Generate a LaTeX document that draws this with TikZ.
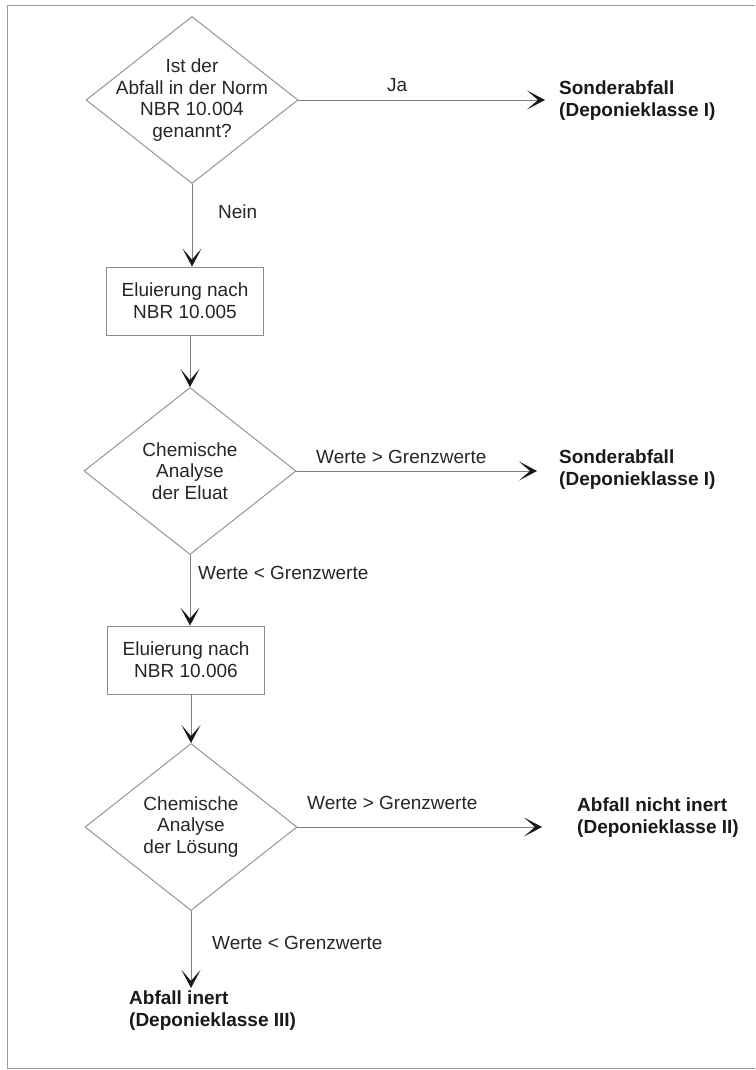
\documentclass[tikz,border=0pt]{standalone}
\usepackage{fontspec}
\setmainfont{Liberation Sans}
\usetikzlibrary{shapes.geometric,arrows.meta}
\begin{document}
\begin{tikzpicture}[x=1pt,y=-1pt,
  every node/.style={font=\fontsize{19}{21.7}\selectfont, text=black!85},
  dec/.style={diamond, draw=black!45, line width=0.9pt, inner sep=0pt,
    minimum width=212pt, minimum height=167pt},
  stepbox/.style={draw=black!45, line width=0.9pt, minimum width=157pt,
    minimum height=68pt, inner sep=0pt, align=center},
  result/.style={font=\fontsize{19}{22}\selectfont\bfseries, text=black!90,
    align=left, anchor=west, inner sep=0pt},
  lab/.style={anchor=west, inner sep=0pt},
  flow/.style={draw=black!50, line width=0.9pt,
    -{Stealth[length=18pt,width=19pt,inset=11pt,color=black!90]}}]
\useasboundingbox (0,0) rectangle (755,1070);
% frame
\draw[black!40, line width=1pt] (755,6) -- (7,6) -- (7,1068) -- (755,1068);

% level 1
\node[dec, label={[align=center]center:Ist der\\Abfall in der Norm\\NBR 10.004\\genannt?}] (d1) at (192,100) {};
\node[result] (s1) at (559,101) {Sonderabfall\\(Deponieklasse I)};
\node[lab] (ja) at (387,85) {Ja};
\draw[flow, shorten >=14pt] (d1.east) -- (d1.east -| s1.west);

\node[lab] (nein) at (218,212) {Nein};
\node[stepbox] (b1) at (185,301) {Eluierung nach\\NBR 10.005};
\draw[flow] (d1.south) -- (d1.south |- b1.north);

% level 2
\node[dec, label={[align=center]center:Chemische\\Analyse\\der Eluat}] (d2) at (190,471) {};
\draw[flow] (b1.south -| d2.north) -- (d2.north);
\node[result] (s2) at (559,470) {Sonderabfall\\(Deponieklasse I)};
\node[lab] (w1) at (316,457) {Werte > Grenzwerte};
\draw[flow, shorten >=22pt] (d2.east) -- (d2.east -| s2.west);

\node[lab] (w2) at (198,573) {Werte < Grenzwerte};
\node[stepbox] (b2) at (186,660) {Eluierung nach\\NBR 10.006};
\draw[flow] (d2.south) -- (d2.south |- b2.north);

% level 3
\node[dec, label={[align=center]center:Chemische\\Analyse\\der Lösung}] (d3) at (191,827) {};
\draw[flow] (b2.south -| d3.north) -- (d3.north);
\node[result] (n3) at (577,818) {Abfall nicht inert\\(Deponieklasse II)};
\node[lab] (w3) at (307,803) {Werte > Grenzwerte};
\draw[flow, shorten >=35pt] (d3.east) -- (d3.east -| n3.west);

\node[lab] (w4) at (212,943) {Werte < Grenzwerte};
\node[result] (i3) at (129,1011) {Abfall inert\\(Deponieklasse III)};
\draw[flow, shorten >=3pt] (d3.south) -- (d3.south |- i3.north);
\end{tikzpicture}
\end{document}
